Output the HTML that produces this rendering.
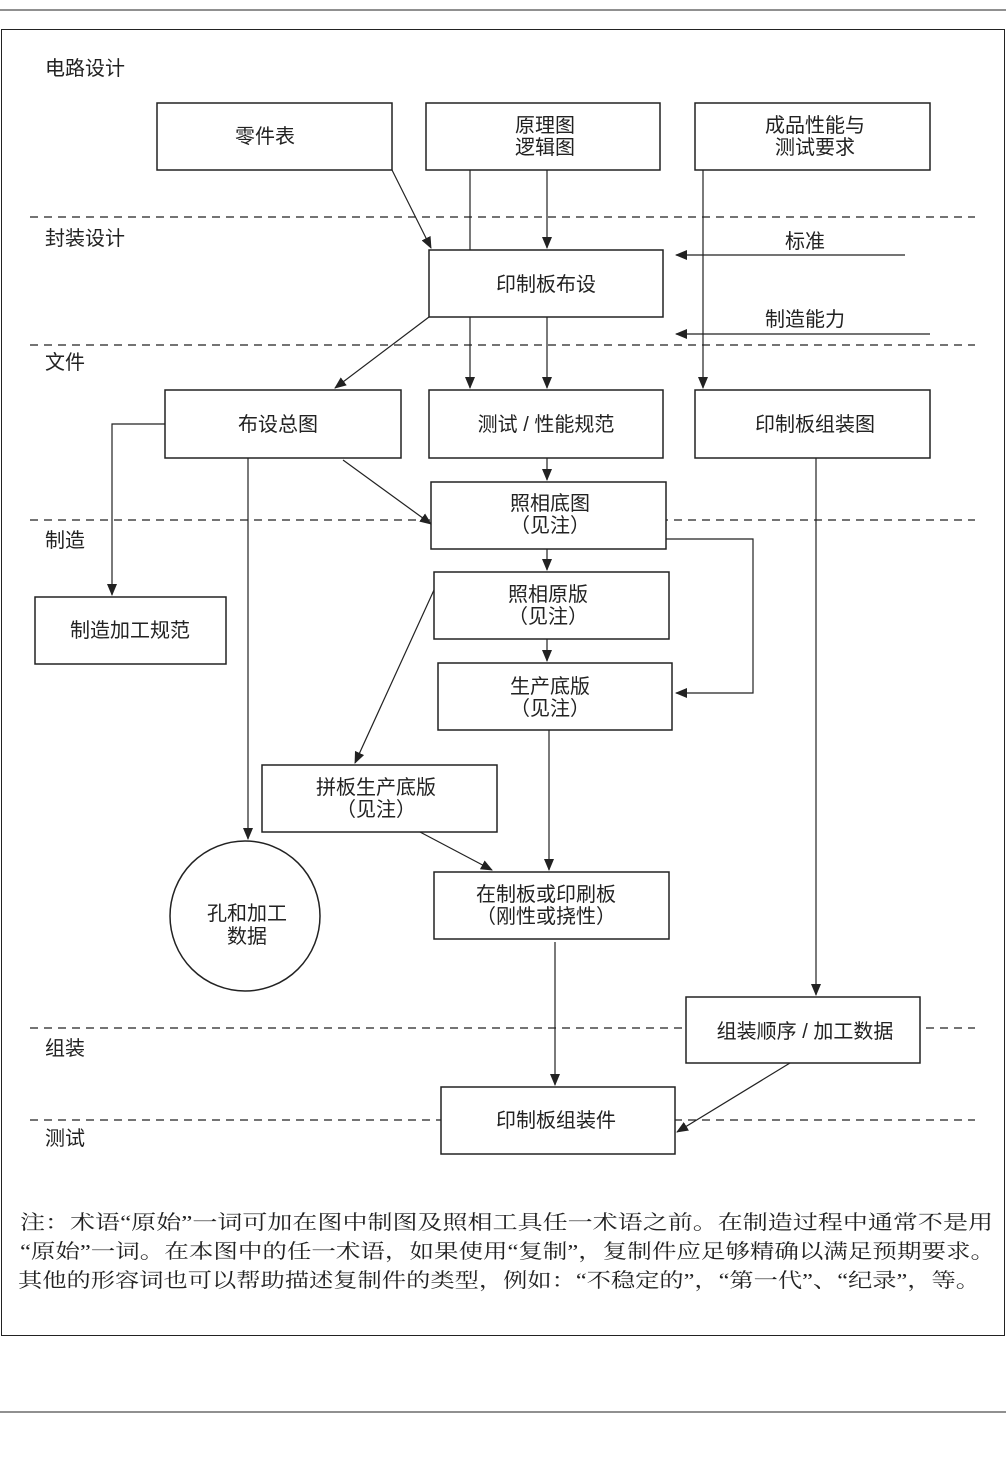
<!DOCTYPE html>
<html><head><meta charset="utf-8">
<style>
html,body{margin:0;padding:0;background:#fff;}
svg{display:block;}
text{font-family:"Liberation Sans","Noto Sans CJK SC",sans-serif;font-size:20px;fill:#222;}
.n{font-family:"Liberation Serif","Noto Serif CJK SC",serif;font-size:20px;}
</style></head><body>
<svg width="1006" height="1471" viewBox="0 0 1006 1471" xmlns="http://www.w3.org/2000/svg">
<defs>
<marker id="a" markerWidth="12" markerHeight="10" refX="11" refY="5" orient="auto" markerUnits="userSpaceOnUse">
<path d="M0,0 L12,5 L0,10 z" fill="#222"/></marker>
</defs>
<line x1="0" y1="10" x2="1006" y2="10" stroke="#222" stroke-width="1"/>
<line x1="0" y1="1412" x2="1006" y2="1412" stroke="#222" stroke-width="1"/>
<rect x="1.5" y="29.5" width="1003" height="1306" fill="none" stroke="#222" stroke-width="1"/>
<g stroke="#222" stroke-width="1.3" stroke-dasharray="8,6">
<line x1="30" y1="217" x2="975" y2="217"/>
<line x1="30" y1="345" x2="975" y2="345"/>
<line x1="30" y1="520" x2="975" y2="520"/>
<line x1="30" y1="1028" x2="975" y2="1028"/>
<line x1="30" y1="1120" x2="975" y2="1120"/>
</g>
<text x="45" y="75">电路设计</text>
<text x="45" y="245">封装设计</text>
<text x="45" y="369">文件</text>
<text x="45" y="547">制造</text>
<text x="45" y="1055">组装</text>
<text x="45" y="1145">测试</text>
<g fill="#fff" stroke="#222" stroke-width="1.5">
<rect x="157" y="103" width="235" height="67"/>
<rect x="426" y="103" width="234" height="67"/>
<rect x="695" y="103" width="235" height="67"/>
<rect x="429" y="250" width="234" height="67"/>
<rect x="165" y="390" width="236" height="68"/>
<rect x="429" y="390" width="234" height="68"/>
<rect x="695" y="390" width="235" height="68"/>
<rect x="431" y="482" width="235" height="67"/>
<rect x="35" y="597" width="191" height="67"/>
<rect x="434" y="572" width="235" height="67"/>
<rect x="438" y="663" width="234" height="67"/>
<rect x="262" y="765" width="235" height="67"/>
<circle cx="245" cy="916" r="75"/>
<rect x="434" y="872" width="235" height="67"/>
<rect x="686" y="997" width="234" height="66"/>
<rect x="441" y="1087" width="234" height="67"/>
</g>
<g text-anchor="middle">
<text x="265" y="143">零件表</text>
<text x="545" y="132">原理图</text><text x="545" y="154">逻辑图</text>
<text x="815" y="132">成品性能与</text><text x="815" y="154">测试要求</text>
<text x="546" y="291">印制板布设</text>
<text x="278" y="431">布设总图</text>
<text x="546" y="431">测试 / 性能规范</text>
<text x="815" y="431">印制板组装图</text>
<text x="550" y="510">照相底图</text><text x="550" y="532">（见注）</text>
<text x="130" y="637">制造加工规范</text>
<text x="548" y="601">照相原版</text><text x="548" y="623">（见注）</text>
<text x="550" y="693">生产底版</text><text x="550" y="715">（见注）</text>
<text x="376" y="794">拼板生产底版</text><text x="376" y="816">（见注）</text>
<text x="247" y="920">孔和加工</text><text x="247" y="943">数据</text>
<text x="546" y="901">在制板或印刷板</text><text x="546" y="923">（刚性或挠性）</text>
<text x="805" y="1038">组装顺序 / 加工数据</text>
<text x="556" y="1127">印制板组装件</text>
<text x="805" y="248">标准</text>
<text x="805" y="326">制造能力</text>
</g>
<g stroke="#222" stroke-width="1.2" fill="none">
<line x1="392" y1="170" x2="431" y2="248" marker-end="url(#a)"/>
<line x1="470" y1="170" x2="470" y2="250"/>
<line x1="547" y1="170" x2="547" y2="248" marker-end="url(#a)"/>
<line x1="703" y1="170" x2="703" y2="388" marker-end="url(#a)"/>
<line x1="905" y1="255" x2="676" y2="255" marker-end="url(#a)"/>
<line x1="930" y1="334" x2="676" y2="334" marker-end="url(#a)"/>
<line x1="429" y1="317" x2="335" y2="388" marker-end="url(#a)"/>
<line x1="470" y1="317" x2="470" y2="388" marker-end="url(#a)"/>
<line x1="547" y1="317" x2="547" y2="388" marker-end="url(#a)"/>
<polyline points="165,424 112,424 112,595" marker-end="url(#a)"/>
<line x1="248" y1="458" x2="248" y2="839" marker-end="url(#a)"/>
<line x1="343" y1="460" x2="431" y2="524" marker-end="url(#a)"/>
<line x1="547" y1="458" x2="547" y2="480" marker-end="url(#a)"/>
<polyline points="666,539 753,539 753,693 676,693" marker-end="url(#a)"/>
<line x1="547" y1="549" x2="547" y2="570" marker-end="url(#a)"/>
<line x1="434" y1="590" x2="355" y2="763" marker-end="url(#a)"/>
<line x1="547" y1="639" x2="547" y2="661" marker-end="url(#a)"/>
<line x1="549" y1="730" x2="549" y2="870" marker-end="url(#a)"/>
<line x1="420" y1="832" x2="492" y2="870" marker-end="url(#a)"/>
<line x1="555" y1="942" x2="555" y2="1085" marker-end="url(#a)"/>
<line x1="816" y1="458" x2="816" y2="995" marker-end="url(#a)"/>
<line x1="790" y1="1063" x2="677" y2="1132" marker-end="url(#a)"/>
</g>
<text class="n" x="20" y="1229" textLength="973" lengthAdjust="spacingAndGlyphs">注：术语“原始”一词可加在图中制图及照相工具任一术语之前。在制造过程中通常不是用</text>
<text class="n" x="20" y="1258" textLength="975" lengthAdjust="spacingAndGlyphs">“原始”一词。在本图中的任一术语，如果使用“复制”，复制件应足够精确以满足预期要求。</text>
<text class="n" x="18" y="1287" textLength="962" lengthAdjust="spacingAndGlyphs">其他的形容词也可以帮助描述复制件的类型，例如：“不稳定的”，“第一代”、“纪录”，等。</text>
</svg>
</body></html>
